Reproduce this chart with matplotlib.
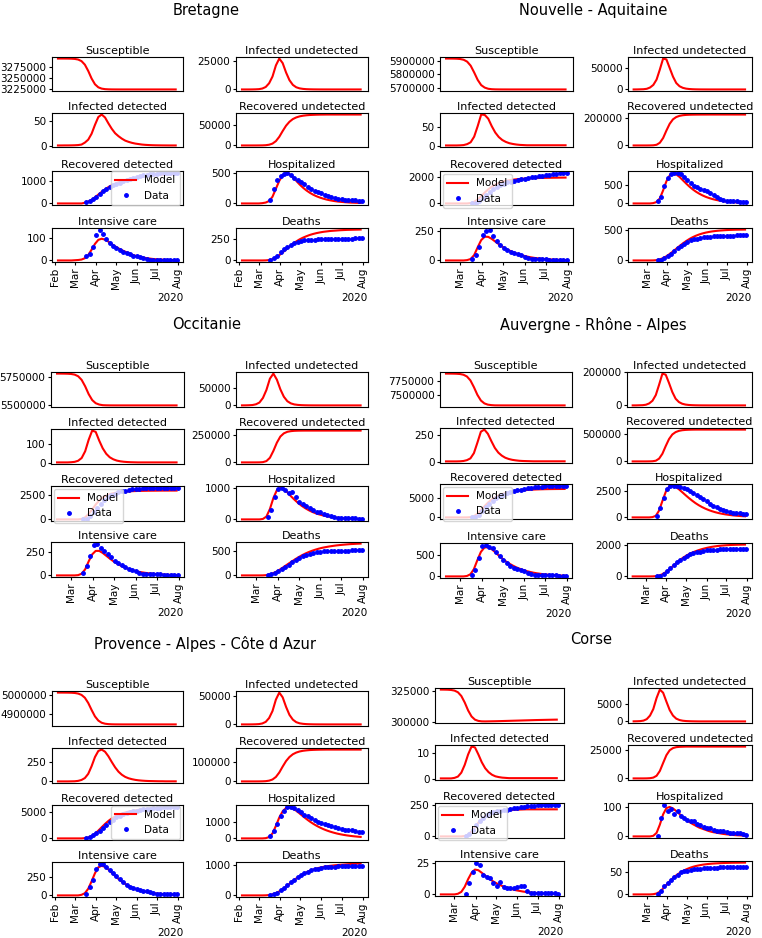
import matplotlib
matplotlib.use("Agg")
import matplotlib.pyplot as plt
import matplotlib.dates as mdates
import pandas as pd

# ---------------------------------------------------------------------------
# data: model curves every 5 days, observations every 5 days from 2020-03-18
# ---------------------------------------------------------------------------
panel_titles = ["Susceptible", "Infected undetected", "Infected detected",
                "Recovered undetected", "Recovered detected", "Hospitalized",
                "Intensive care", "Deaths"]
data_start = "2020-03-18"

# Bretagne (model from 2020-02-05)
bre_S = [3293000, 3293000, 3292960, 3292880, 3292690, 3292170, 3290790, 3287270, 3279340, 3265330,
         3248430, 3235590, 3228760, 3225860, 3224690, 3224280, 3224100, 3224040, 3224010, 3224000,
         3224000, 3224000, 3224000, 3224000, 3224000, 3224000, 3224000, 3224000, 3224000, 3224000,
         3224000, 3224000, 3224000, 3224000, 3224000, 3224000]
bre_IU = [0, 0, 0, 30, 110, 270, 810, 2160, 5400, 11300, 21000, 27000, 23000, 14800, 8100, 4000,
          1900, 950, 490, 240, 130, 70, 40, 20, 10, 5, 0, 0, 0, 0, 0, 0, 0, 0, 0, 0]
bre_ID = [0.2, 0.2, 0.3, 0.3, 0.4, 0.6, 1, 2, 6, 12, 24, 42, 58, 63, 57, 45, 34, 25, 19, 14, 10,
          7.5, 5.5, 4, 3, 2, 1.4, 1, 0.7, 0.5, 0.4, 0.3, 0.25, 0.2, 0.2, 0.2]
bre_RU = [0, 0, 0, 0, 20, 80, 200, 600, 1800, 4500, 10500, 21000, 35000, 48000, 57500, 64000, 68000,
          70600, 72200, 73200, 73900, 74300, 74600, 74800, 74900, 75000, 75000, 75000, 75000, 75000,
          75000, 75000, 75000, 75000, 75000, 75000]
bre_RD = [0, 0, 0, 0, 0, 0, 0, 0, 30, 80, 160, 270, 390, 510, 620, 720, 800, 870, 930, 980, 1025,
          1065, 1100, 1130, 1155, 1178, 1198, 1215, 1230, 1243, 1254, 1263, 1271, 1278, 1284, 1290]
bre_H = [0, 0, 0, 0, 0, 0, 5, 15, 40, 110, 240, 370, 460, 498, 480, 430, 370, 310, 258, 213, 175,
         143, 117, 96, 78, 63, 51, 41, 33, 27, 22, 18, 14, 12, 10, 8]
bre_IC = [0, 0, 0, 0, 0, 1, 2, 4, 10, 24, 48, 74, 92, 97, 93, 84, 73, 63, 54, 46, 39, 33, 26, 21,
          17, 14, 11, 9, 7, 5.5, 4.4, 3.5, 2.8, 2.2, 1.8, 1.4]
bre_D = [0, 0, 0, 0, 0, 0, 0, 1, 5, 15, 35, 62, 95, 130, 165, 197, 225, 250, 270, 287, 302, 314,
         324, 332, 339, 344, 349, 352, 355, 358, 360, 362, 363, 364, 365, 366]
bre_RD_obs = [60, 110, 190, 300, 430, 540, 640, 720, 790, 850, 920, 980, 1040, 1090, 1140, 1180,
              1210, 1240, 1260, 1280, 1300, 1310, 1320, 1330, 1340, 1345, 1350, 1360]
bre_H_obs = [60, 240, 390, 450, 480, 505, 470, 420, 380, 345, 320, 270, 235, 210, 190, 165, 145,
             120, 100, 85, 75, 68, 60, 55, 50, 62, 48, 38]
bre_IC_obs = [18, 27, 58, 115, 138, 120, 95, 76, 63, 54, 45, 38, 32, 27, 22, 19, 16, 12, 8, 4, 2,
              1, 1, 0, 0, 0, 0, 0]
bre_D_obs = [5, 25, 55, 95, 135, 165, 185, 205, 220, 230, 237, 242, 245, 248, 250, 252, 254, 255,
             256, 257, 258, 258, 258, 259, 259, 260, 260, 268]

# Nouvelle - Aquitaine (model from 2020-02-10)
na_S = [5916930, 5916840, 5916540, 5915740, 5913560, 5908070, 5894100, 5864330, 5813950, 5758990,
        5720060, 5701740, 5693040, 5689830, 5688690, 5688300, 5688150, 5688100, 5688000, 5688000,
        5688000, 5688000, 5688000, 5688000, 5688000, 5688000, 5688000, 5688000, 5688000, 5688000,
        5688000, 5688000, 5688000, 5688000, 5688000]
na_IU = [0, 80, 300, 530, 1500, 4500, 10500, 23000, 46500, 72000, 70000, 50000, 30000, 15000, 7500,
         3800, 1900, 1000, 500, 250, 120, 60, 30, 0, 0, 0, 0, 0, 0, 0, 0, 0, 0, 0, 0]
na_ID = [0.5, 0.5, 0.5, 0.5, 0.8, 1.5, 4, 9, 24, 52, 83, 82, 72, 52, 35, 23, 15, 10, 6.5, 4.5, 3,
         2, 1.5, 1, 1, 1, 1, 1, 1, 1, 1, 1, 1, 1, 1]
na_RU = [0, 0, 0, 0, 0, 300, 1200, 5000, 20000, 55000, 110000, 160000, 193000, 210000, 219000,
         223500, 225800, 227000, 227600, 228000, 228200, 228300, 228400, 228500, 228500, 228500,
         228500, 228500, 228500, 228500, 228500, 228500, 228500, 228500, 228500]
na_RD = [0, 0, 0, 0, 0, 0, 0, 30, 120, 300, 550, 820, 1060, 1260, 1420, 1540, 1630, 1700, 1750,
         1790, 1820, 1845, 1865, 1880, 1895, 1905, 1915, 1922, 1928, 1934, 1938, 1942, 1945, 1948, 1950]
na_H = [0, 0, 0, 0, 0, 0, 10, 40, 140, 360, 610, 770, 825, 800, 730, 640, 550, 465, 390, 325, 270,
        222, 182, 150, 122, 100, 82, 67, 55, 45, 37, 30, 25, 20, 16]
na_IC = [0, 0, 0, 0, 0, 0, 3, 12, 45, 110, 170, 198, 197, 180, 158, 136, 116, 98, 83, 70, 58, 48,
         40, 33, 27, 22, 18, 15, 12, 10, 8, 6.5, 5.3, 4.3, 3.5]
na_D = [0, 0, 0, 0, 0, 0, 1, 5, 18, 40, 70, 108, 150, 195, 240, 283, 322, 357, 387, 412, 433, 450,
        464, 475, 484, 491, 497, 501, 505, 508, 510, 512, 513, 514, 515]
na_RD_obs = [0, 10, 150, 400, 650, 880, 1080, 1250, 1390, 1500, 1590, 1650, 1710, 1760, 1810, 1860,
             1910, 1960, 2010, 2060, 2100, 2140, 2180, 2220, 2250, 2280, 2300, 2330]
na_H_obs = [70, 190, 470, 700, 810, 850, 830, 800, 740, 650, 560, 490, 450, 410, 380, 340, 300,
            220, 170, 125, 95, 75, 62, 58, 55, 52, 50, 48]
na_IC_obs = [10, 45, 115, 215, 245, 258, 205, 160, 125, 100, 85, 74, 66, 57, 42, 30, 21, 16, 13, 9,
             8, 8, 7, 5, 5, 5, 5, 5]
na_D_obs = [3, 12, 35, 70, 115, 160, 205, 245, 280, 310, 335, 352, 365, 375, 383, 390, 395, 400,
            404, 407, 410, 412, 414, 415, 416, 417, 418, 418]

# Occitanie (model from 2020-02-10)
occ_S = [5782940, 5782830, 5782510, 5781700, 5779530, 5773750, 5759010, 5725780, 5667400, 5596310,
         5542550, 5513940, 5501800, 5496110, 5494840, 5494300, 5494100, 5494000, 5494000, 5494000,
         5494000, 5494000, 5494000, 5494000, 5494000, 5494000, 5494000, 5494000, 5494000, 5494000,
         5494000, 5494000, 5494000, 5494000, 5494000]
occ_IU = [100, 200, 500, 1100, 3300, 8500, 22000, 45600, 79000, 94000, 76000, 47500, 25600, 12400,
          6000, 2900, 1500, 760, 380, 190, 100, 50, 25, 0, 0, 0, 0, 0, 0, 0, 0, 0, 0, 0, 0]
occ_ID = [1, 1, 1, 1, 2, 4, 10, 25, 62, 125, 175, 168, 120, 78, 48, 29, 18, 11, 7, 4.5, 3, 2, 1.5,
          1, 1, 1, 1, 1, 1, 1, 1, 1, 1, 1, 1]
occ_RU = [0, 0, 0, 50, 100, 500, 2500, 12000, 42000, 105000, 180000, 236000, 265000, 279000, 285000,
          288000, 289200, 289700, 290000, 290000, 290000, 290000, 290000, 290000, 290000, 290000,
          290000, 290000, 290000, 290000, 290000, 290000, 290000, 290000, 290000]
occ_RD = [0, 0, 0, 0, 0, 0, 0, 43, 213, 555, 1013, 1494, 1900, 2198, 2400, 2540, 2635, 2700, 2747,
          2785, 2812, 2833, 2849, 2862, 2870, 2878, 2883, 2887, 2890, 2894, 2896, 2898, 2899, 2900, 2901]
occ_H = [0, 0, 0, 0, 0, 0, 15, 90, 330, 680, 930, 1000, 960, 860, 740, 630, 530, 440, 365, 300,
         245, 200, 163, 133, 108, 88, 72, 58, 47, 38, 31, 25, 20, 16, 13]
occ_IC = [0, 0, 0, 0, 0, 0, 3, 18, 65, 150, 225, 262, 262, 240, 210, 180, 152, 128, 107, 89, 74,
          61, 50, 41, 34, 28, 23, 19, 15, 12, 10, 8, 6.5, 5.3, 4.3]
occ_D = [0, 0, 0, 0, 0, 0, 1, 6, 21, 47, 83, 127, 175, 224, 272, 319, 364, 405, 442, 474, 502, 526,
         547, 565, 579, 592, 603, 613, 621, 628, 634, 640, 644, 648, 651]
occ_RD_obs = [10, 85, 320, 700, 1130, 1560, 1940, 2210, 2430, 2590, 2720, 2810, 2890, 2960, 3010,
              3050, 3090, 3110, 3130, 3140, 3150, 3160, 3170, 3175, 3180, 3185, 3190, 3200]
occ_H_obs = [90, 300, 700, 980, 1010, 920, 850, 860, 720, 560, 480, 420, 360, 300, 250, 220, 170,
             130, 100, 80, 60, 50, 40, 35, 30, 30, 28, 25]
occ_IC_obs = [30, 100, 210, 320, 340, 290, 265, 230, 195, 155, 128, 108, 90, 72, 58, 45, 30, 20, 14,
              12, 10, 10, 10, 8, 5, 5, 5, 8]
occ_D_obs = [5, 20, 45, 85, 130, 175, 220, 270, 320, 360, 395, 420, 440, 460, 475, 485, 492, 497,
             500, 503, 505, 507, 508, 509, 510, 510, 511, 512]

# Auvergne - Rhone - Alpes (model from 2020-02-10)
ara_S = [7886880, 7886590, 7885950, 7884080, 7879190, 7866010, 7833950, 7762240, 7638640, 7497560,
         7393780, 7340730, 7318000, 7309250, 7305020, 7304400, 7304150, 7304000, 7304000, 7304000,
         7304000, 7304000, 7304000, 7304000, 7304000, 7304000, 7304000, 7304000, 7304000, 7304000,
         7304000, 7304000, 7304000, 7304000, 7304000]
ara_IU = [100, 200, 800, 1400, 4000, 12000, 28000, 62000, 124000, 190000, 184000, 134000, 80000,
          40000, 20000, 10000, 5000, 2600, 1400, 700, 350, 180, 90, 0, 0, 0, 0, 0, 0, 0, 0, 0, 0, 0, 0]
ara_ID = [1, 1, 1, 1, 2, 5, 13, 30, 80, 180, 285, 305, 265, 195, 130, 85, 56, 36, 24, 16, 11, 7, 5,
          4, 3, 2, 2, 2, 2, 2, 2, 2, 2, 2, 2]
ara_RU = [0, 0, 0, 0, 0, 760, 3060, 12700, 51000, 140000, 280000, 408000, 492000, 535000, 558000,
          569500, 575400, 578400, 580000, 580800, 581000, 581000, 581000, 581000, 581000, 581000,
          581000, 581000, 581000, 581000, 581000, 581000, 581000, 581000, 581000]
ara_RD = [0, 0, 0, 0, 0, 0, 0, 60, 300, 900, 1800, 2800, 3700, 4450, 5050, 5500, 5850, 6120, 6330,
          6500, 6630, 6740, 6830, 6900, 6960, 7010, 7050, 7080, 7105, 7125, 7140, 7150, 7160, 7165, 7170]
ara_H = [0, 0, 0, 0, 0, 0, 30, 150, 650, 1550, 2400, 2900, 3000, 2880, 2650, 2380, 2100, 1830, 1580,
         1350, 1150, 975, 825, 695, 585, 490, 410, 345, 290, 245, 205, 172, 145, 122, 103]
ara_IC = [0, 0, 0, 0, 0, 0, 10, 50, 170, 380, 570, 670, 680, 640, 570, 495, 425, 360, 305, 258, 217,
          182, 152, 127, 106, 88, 73, 61, 50, 42, 35, 29, 24, 20, 17]
ara_D = [0, 0, 0, 0, 0, 0, 3, 15, 55, 140, 270, 430, 620, 810, 990, 1150, 1290, 1410, 1510, 1595,
         1670, 1735, 1790, 1838, 1878, 1910, 1937, 1958, 1974, 1987, 1997, 2005, 2011, 2016, 2020]
ara_RD_obs = [20, 150, 700, 1600, 2600, 3500, 4250, 4850, 5350, 5750, 6100, 6400, 6650, 6850, 7000,
              7150, 7300, 7450, 7580, 7700, 7780, 7850, 7900, 7950, 7980, 8000, 8010, 8020]
ara_H_obs = [100, 850, 1850, 2650, 2950, 2980, 2950, 2850, 2780, 2650, 2480, 2300, 2100, 1900, 1700,
             1500, 1300, 1100, 950, 800, 680, 580, 500, 450, 420, 380, 340, 300]
ara_IC_obs = [30, 160, 420, 700, 740, 690, 650, 560, 470, 380, 310, 250, 205, 170, 140, 120, 80, 50,
              30, 30, 30, 30, 30, 25, 25, 10, 5, 5]
ara_D_obs = [8, 50, 160, 320, 520, 720, 900, 1060, 1200, 1310, 1400, 1470, 1530, 1580, 1620, 1650,
             1670, 1690, 1700, 1710, 1715, 1720, 1722, 1725, 1727, 1728, 1730, 1732]

# Provence - Alpes - Cote d Azur (model from 2020-02-05)
pac_S = [5013780, 5013750, 5013670, 5013470, 5012970, 5011730, 5008690, 5001610, 4986750, 4959360,
         4922620, 4888880, 4866840, 4855480, 4850470, 4848300, 4847330, 4847000, 4846900, 4846800,
         4846800, 4846800, 4846800, 4846800, 4846800, 4846800, 4846800, 4846800, 4846800, 4846800,
         4846800, 4846800, 4846800, 4846800, 4846800, 4846800]
pac_IU = [0, 0, 0, 60, 220, 550, 1660, 4430, 11100, 23300, 43200, 55400, 47100, 30500, 16600, 8300,
          3900, 1900, 1000, 500, 280, 140, 70, 40, 20, 0, 0, 0, 0, 0, 0, 0, 0, 0, 0, 0]
pac_ID = [1, 1, 1, 1, 2, 3, 8, 20, 45, 100, 200, 320, 400, 418, 390, 330, 255, 185, 128, 88, 60,
          42, 30, 21, 15, 11, 8, 6, 5, 4, 3, 3, 2, 2, 2, 2]
pac_RU = [0, 0, 0, 0, 0, 100, 440, 1320, 3960, 9900, 23100, 46200, 77000, 105600, 126500, 140800,
          149600, 155300, 158800, 161000, 162600, 163500, 164100, 164600, 164800, 165000, 165000,
          165000, 165000, 165000, 165000, 165000, 165000, 165000, 165000, 165000]
pac_RD = [0, 0, 0, 0, 0, 0, 0, 0, 50, 180, 450, 880, 1450, 2080, 2700, 3250, 3720, 4100, 4400, 4640,
          4830, 4990, 5120, 5230, 5320, 5400, 5460, 5510, 5550, 5585, 5612, 5635, 5655, 5670, 5683, 5694]
pac_H = [0, 0, 0, 0, 0, 0, 0, 15, 80, 300, 750, 1250, 1620, 1820, 1850, 1780, 1650, 1490, 1320, 1160,
         1010, 875, 755, 650, 555, 475, 405, 345, 292, 248, 210, 178, 150, 127, 107, 90]
pac_IC = [0, 0, 0, 0, 0, 0, 0, 8, 30, 90, 190, 300, 380, 400, 385, 350, 305, 262, 222, 186, 155,
          128, 106, 88, 73, 60, 50, 41, 34, 28, 23, 19, 16, 13, 11, 9]
pac_D = [0, 0, 0, 0, 0, 0, 0, 3, 12, 35, 75, 130, 200, 285, 375, 465, 550, 625, 690, 748, 797, 838,
         872, 900, 923, 942, 958, 971, 982, 992, 1000, 1008, 1015, 1021, 1026, 1030]
pac_RD_obs = [100, 250, 550, 950, 1450, 2000, 2550, 3050, 3500, 3900, 4200, 4480, 4700, 4900, 5050,
              5180, 5300, 5400, 5480, 5550, 5620, 5680, 5730, 5780, 5820, 5860, 5890, 5920]
pac_H_obs = [170, 450, 880, 1350, 1650, 1850, 1900, 1820, 1700, 1560, 1420, 1320, 1200, 1100, 1000,
             920, 860, 800, 750, 700, 620, 540, 500, 490, 480, 470, 380, 360]
pac_IC_obs = [20, 110, 215, 360, 430, 430, 380, 350, 300, 260, 220, 180, 140, 110, 95, 85, 75, 65,
              55, 45, 35, 25, 20, 20, 20, 20, 20, 20]
pac_D_obs = [5, 30, 90, 160, 250, 340, 430, 510, 590, 660, 720, 770, 810, 845, 870, 890, 905, 915,
             925, 932, 938, 942, 946, 950, 952, 955, 958, 960]

# Corse (model from 2020-02-10)
cor_S = [326280, 326250, 326180, 325980, 325460, 324120, 321090, 315780, 309310, 304420, 301820,
         300800, 300450, 300400, 300450, 300500, 300550, 300620, 300700, 300780, 300860, 300940,
         301020, 301100, 301180, 301260, 301340, 301420, 301500, 301560, 301620, 301680, 301740,
         301800, 301850]
cor_IU = [20, 40, 85, 230, 650, 1670, 3530, 6700, 9100, 8200, 5670, 3250, 1670, 790, 390, 195, 100,
          55, 28, 15, 0, 0, 0, 0, 0, 0, 0, 0, 0, 0, 0, 0, 0, 0, 0]
cor_ID = [0.3, 0.3, 0.3, 0.3, 0.5, 1, 2.5, 5.5, 9.5, 12.5, 12.2, 9.5, 6.5, 4.2, 2.7, 1.7, 1.1, 0.8,
          0.6, 0.5, 0.4, 0.4, 0.4, 0.4, 0.4, 0.4, 0.4, 0.4, 0.4, 0.4, 0.4, 0.4, 0.4, 0.4, 0.4]
cor_RU = [0, 0, 0, 0, 50, 200, 700, 2300, 6500, 13500, 20300, 24600, 26500, 27300, 27600, 27700,
          27800, 27800, 27800, 27800, 27800, 27800, 27800, 27800, 27800, 27800, 27800, 27800, 27800,
          27800, 27800, 27800, 27800, 27800, 27800]
cor_RD = [0, 0, 0, 0, 0, 0, 0, 3, 15, 40, 75, 110, 140, 162, 178, 189, 197, 202, 206, 209, 211, 213,
          214, 215, 216, 217, 217, 217, 217, 217, 217, 217, 217, 217, 217]
cor_H = [0, 0, 0, 0, 0, 0, 2, 12, 40, 75, 96, 100, 95, 86, 76, 66, 57, 49, 42, 36, 30, 26, 22, 18,
         15, 13, 11, 9, 7.5, 6.3, 5.2, 4.3, 3.6, 3, 2.5]
cor_IC = [0, 0, 0, 0, 0, 0.5, 2, 6, 12, 17, 19.5, 19, 17, 14.8, 12.7, 10.8, 9.2, 7.8, 6.6, 5.6, 4.7,
          4, 3.3, 2.8, 2.3, 1.9, 1.6, 1.3, 1.1, 0.9, 0.75, 0.6, 0.5, 0.4, 0.35]
cor_D = [0, 0, 0, 0, 0, 0, 0.5, 2, 6, 13, 21, 29, 36, 42, 47, 51, 55, 58, 60.5, 62.5, 64, 65.3, 66.3,
         67.1, 67.7, 68.2, 68.6, 68.9, 69.2, 69.4, 69.6, 69.7, 69.8, 69.9, 70]
cor_RD_obs = [2, 20, 50, 90, 125, 150, 170, 185, 195, 200, 205, 210, 215, 220, 225, 228, 232, 236,
              240, 243, 246, 248, 249, 250, 251, 252, 253, 255]
cor_H_obs = [0, 63, 108, 86, 92, 75, 85, 70, 62, 55, 53, 52, 42, 38, 33, 30, 27, 22, 20, 19, 17, 15,
             12, 12, 11, 10, 9, 5]
cor_IC_obs = [0, 9, 18, 25, 23, 15, 14, 13, 9, 7, 10, 6, 5, 5, 5, 6, 7, 7, 3, 1, 1, 1, 1, 1, 1, 1,
              1, 0]
cor_D_obs = [0, 7, 18, 25, 32, 38, 43, 50, 51, 51, 53, 55, 56, 57, 58, 58, 58, 59, 59, 60, 60, 60,
             60, 60, 60, 60, 60, 60]

# y tick values per panel (S, IU, ID, RU, RD, H, IC, D)
bre_ticks = [[3225000, 3250000, 3275000], [0, 25000], [0, 50], [0, 50000], [0, 1000], [0, 500], [0, 100], [0, 250]]
na_ticks = [[5700000, 5800000, 5900000], [0, 50000], [0, 50], [0, 200000], [0, 2000], [0, 500], [0, 250], [0, 500]]
occ_ticks = [[5500000, 5750000], [0, 50000], [0, 100], [0, 250000], [0, 2500], [0, 1000], [0, 250], [0, 500]]
ara_ticks = [[7500000, 7750000], [0, 200000], [0, 250], [0, 500000], [0, 5000], [0, 2500], [0, 500], [0, 2000]]
pac_ticks = [[4900000, 5000000], [0, 50000], [0, 250], [0, 100000], [0, 5000], [0, 1000], [0, 250], [0, 1000]]
cor_ticks = [[300000, 325000], [0, 5000], [0, 10], [0, 25000], [0, 250], [0, 100], [0, 25], [0, 50]]

# ---------------------------------------------------------------------------
W, H = 762, 938
fig = plt.figure(figsize=(W / 100, H / 100), dpi=100)


def add_region(name, title_xy, cols, tops, hgt, start, model, obs, ticks, legend_loc):
    fig.text(title_xy[0] / W, 1 - title_xy[1] / H, name, ha="center", va="center", fontsize=10.5)
    t_obs = pd.date_range(data_start, periods=len(obs[0]), freq="5D")
    first = None
    for i in range(8):
        r, c = divmod(i, 2)
        x0, x1 = cols[c]
        rect = [x0 / W, 1 - (tops[r] + hgt) / H, (x1 - x0) / W, hgt / H]
        ax = fig.add_axes(rect, sharex=first)
        if first is None:
            first = ax
        t_mod = pd.date_range(start, periods=len(model[i]), freq="5D")
        ax.plot(t_mod, model[i], "r-", lw=1.5, label="Model")
        if i >= 4:
            ax.plot(t_obs[:len(obs[i - 4])], obs[i - 4], "b.", ms=5, label="Data")
        ax.set_title(panel_titles[i], fontsize=8, pad=2.5)
        ax.set_yticks(ticks[i])
        ax.ticklabel_format(axis="y", style="plain", useOffset=False)
        ax.tick_params(labelsize=7.5, length=2.5, pad=1.5)
        if r < 3:
            ax.tick_params(axis="x", bottom=False, labelbottom=False)
            ax.xaxis.get_offset_text().set_visible(False)
        else:
            loc = mdates.MonthLocator()
            ax.xaxis.set_major_locator(loc)
            ax.xaxis.set_major_formatter(mdates.ConciseDateFormatter(loc))
            ax.tick_params(axis="x", labelrotation=90)
            ax.xaxis.get_offset_text().set_fontsize(7.5)
        if i == 4:
            ax.legend(loc=legend_loc, fontsize=7.5, borderaxespad=0.3)


add_region("Bretagne", (206, 10), [(52, 183), (236, 368)], [57, 113, 171, 228], 34, "2020-02-05",
           [bre_S, bre_IU, bre_ID, bre_RU, bre_RD, bre_H, bre_IC, bre_D],
           [bre_RD_obs, bre_H_obs, bre_IC_obs, bre_D_obs], bre_ticks, "center right")
add_region("Nouvelle - Aquitaine", (593, 10), [(440, 573), (628, 752)], [57, 113, 171, 228], 34, "2020-02-10",
           [na_S, na_IU, na_ID, na_RU, na_RD, na_H, na_IC, na_D],
           [na_RD_obs, na_H_obs, na_IC_obs, na_D_obs], na_ticks, "upper left")
add_region("Occitanie", (207, 324), [(51, 184), (236, 368)], [372, 429, 486, 542], 35, "2020-02-10",
           [occ_S, occ_IU, occ_ID, occ_RU, occ_RD, occ_H, occ_IC, occ_D],
           [occ_RD_obs, occ_H_obs, occ_IC_obs, occ_D_obs], occ_ticks, "upper left")
add_region("Auvergne - Rhône - Alpes", (593, 325), [(440, 572), (627, 752)], [372, 428, 484, 543], 35, "2020-02-10",
           [ara_S, ara_IU, ara_ID, ara_RU, ara_RD, ara_H, ara_IC, ara_D],
           [ara_RD_obs, ara_H_obs, ara_IC_obs, ara_D_obs], ara_ticks, "upper left")
add_region("Provence - Alpes - Côte d Azur", (205, 644), [(52, 183), (236, 368)], [691, 748, 805, 862], 35, "2020-02-05",
           [pac_S, pac_IU, pac_ID, pac_RU, pac_RD, pac_H, pac_IC, pac_D],
           [pac_RD_obs, pac_H_obs, pac_IC_obs, pac_D_obs], pac_ticks, "center right")
add_region("Corse", (591, 639), [(435, 564), (628, 752)], [688, 745, 803, 861], 35, "2020-02-10",
           [cor_S, cor_IU, cor_ID, cor_RU, cor_RD, cor_H, cor_IC, cor_D],
           [cor_RD_obs, cor_H_obs, cor_IC_obs, cor_D_obs], cor_ticks, "upper left")

fig.savefig("out.png", dpi=100)
